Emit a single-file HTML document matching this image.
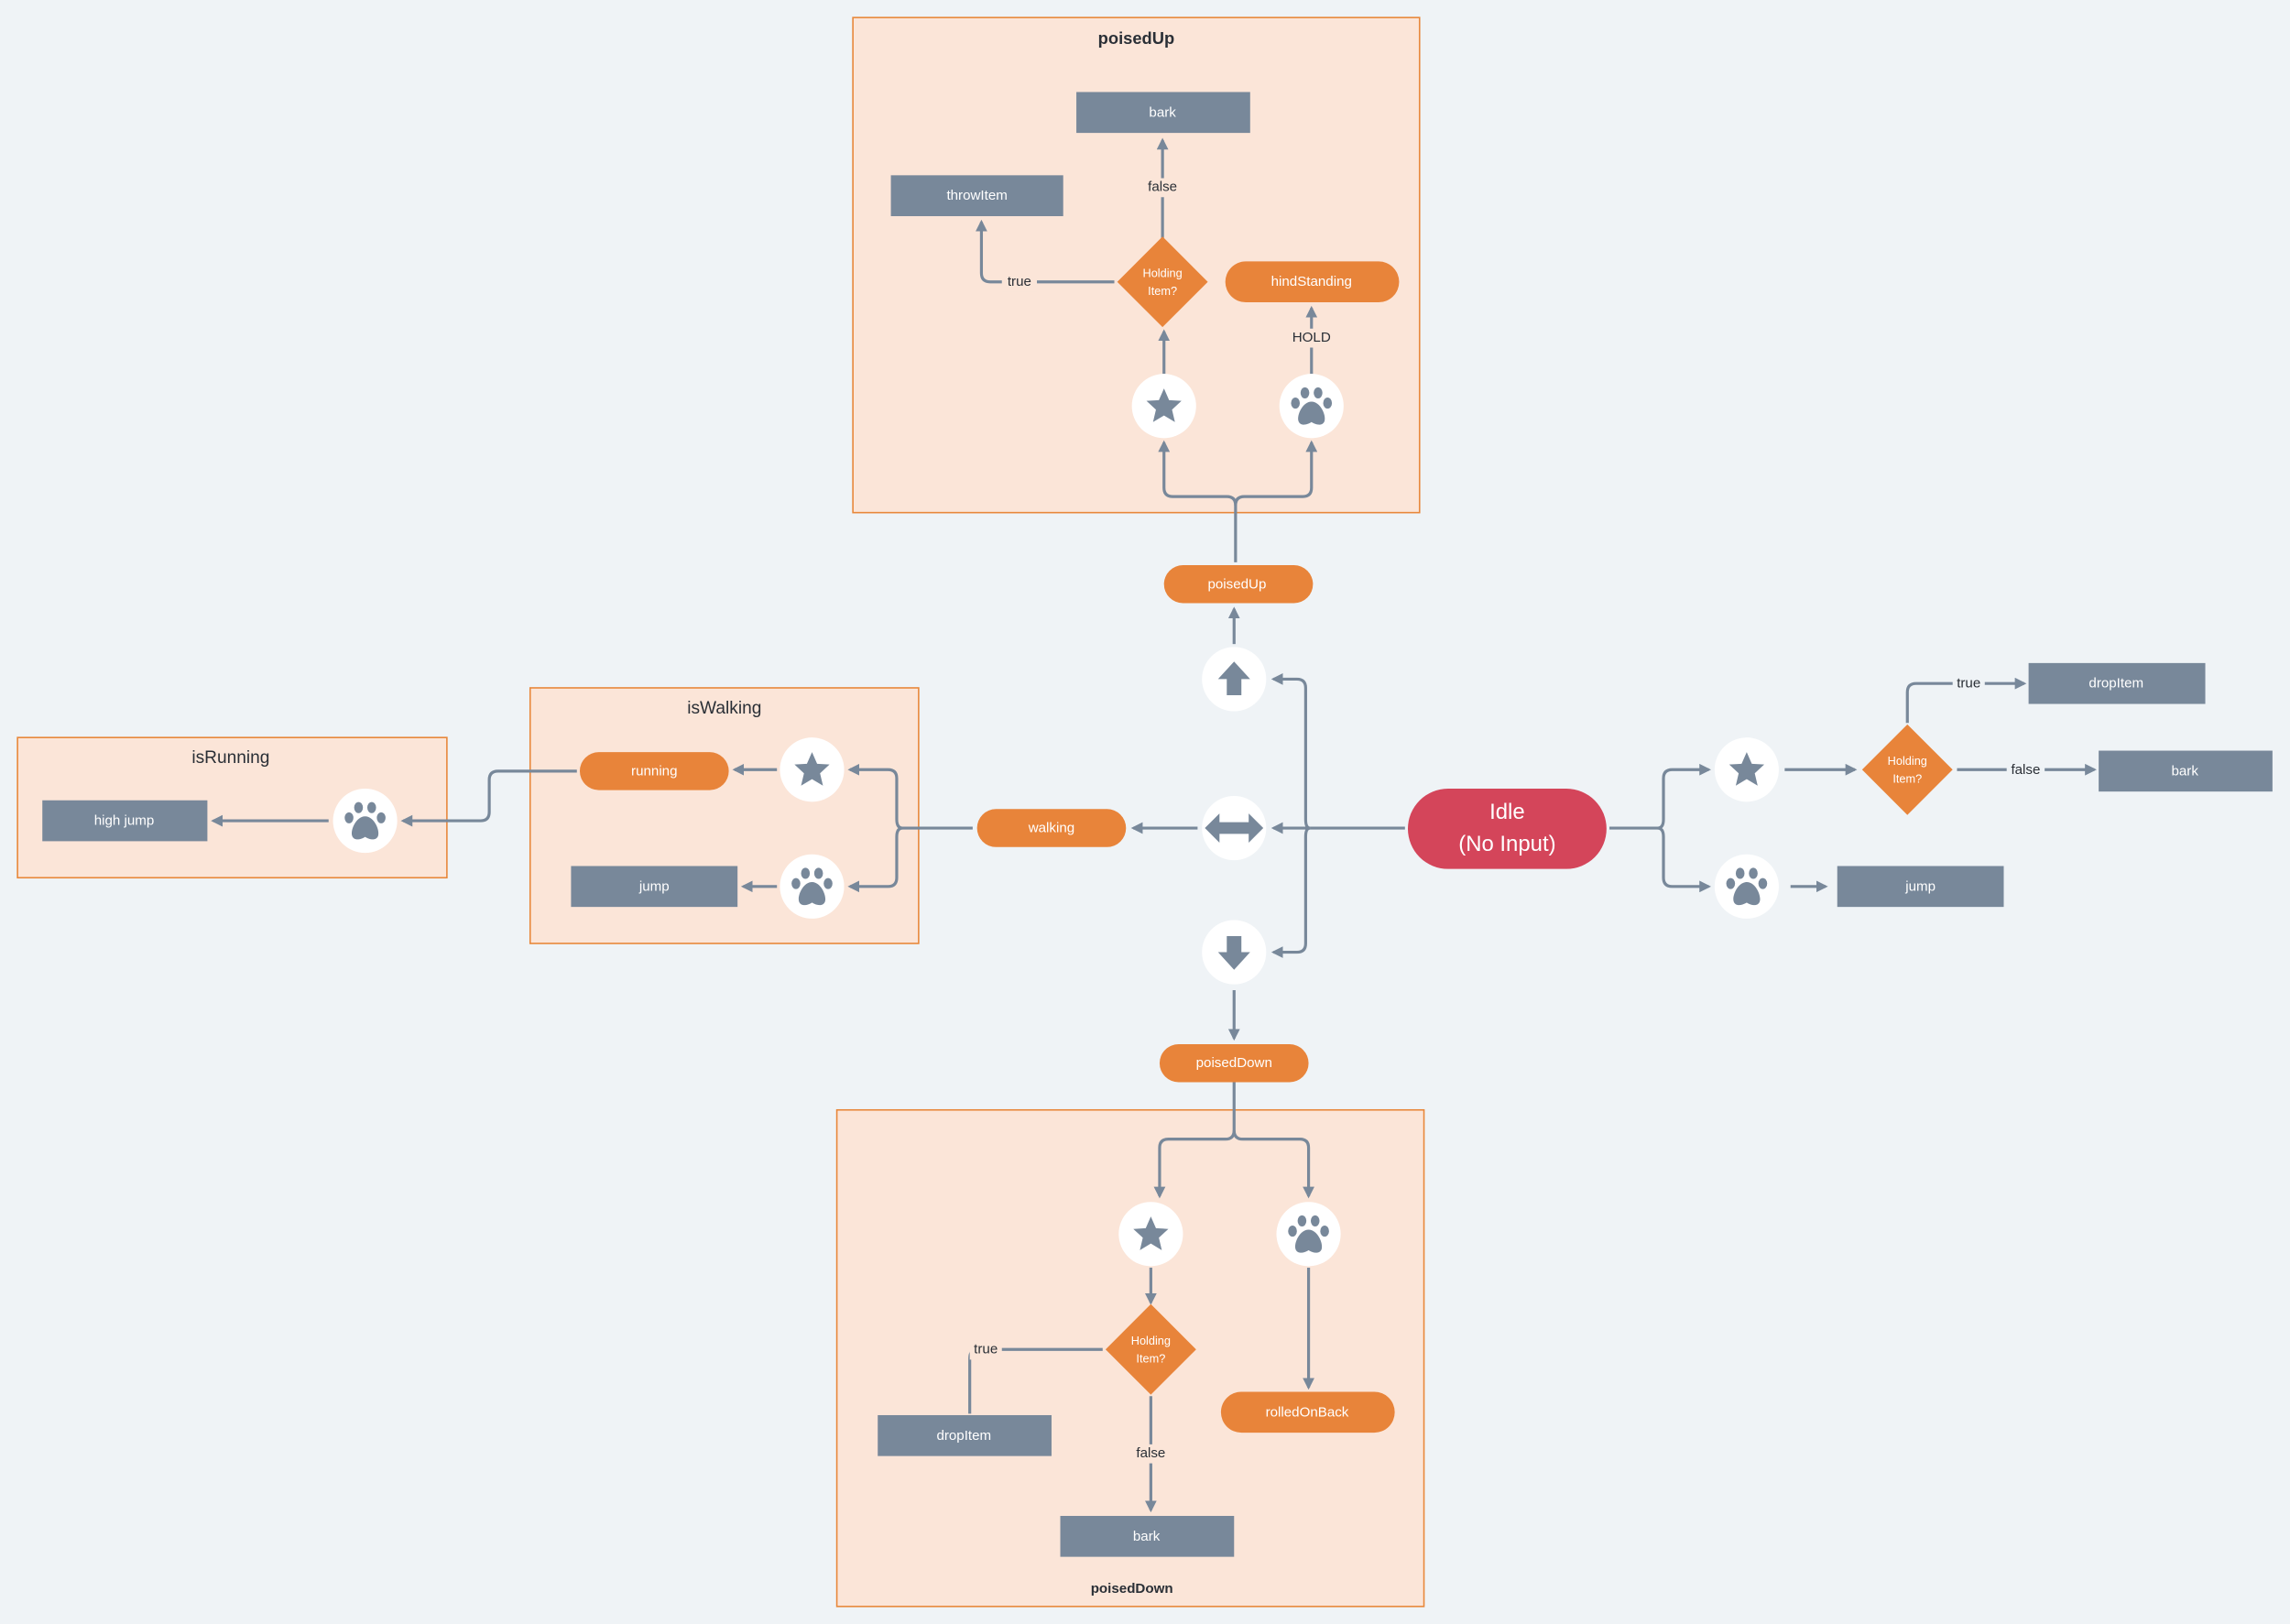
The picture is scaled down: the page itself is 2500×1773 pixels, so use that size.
<!DOCTYPE html>
<html><head><meta charset="utf-8"><style>
html,body{margin:0;padding:0;background:#eff3f6;}
svg{display:block;}
text{font-family:"Liberation Sans",sans-serif;}
.w{fill:#fff;font-size:9.5px;text-anchor:middle;dominant-baseline:central;}
.l{fill:#2a2f36;font-size:9.5px;text-anchor:middle;dominant-baseline:central;}
.ln{fill:none;stroke:#78889a;stroke-width:2;stroke-linejoin:round;}
.box{fill:#fbe5d8;stroke:#e8873a;stroke-width:1;}
.or{fill:#e8843a;}
.gr{fill:#78889a;}
</style></head><body>
<svg width="2500" height="1773" viewBox="0 0 1568 1112" xmlns="http://www.w3.org/2000/svg">
<defs>
<marker id="a" viewBox="0 0 10 10" refX="8" refY="5" markerWidth="4" markerHeight="4" orient="auto"><path d="M0,0L10,5L0,10z" fill="#78889a"/></marker>
<g id="star"><circle r="22" fill="#fff"/><path fill="#78889a" d="M0,-12 L3.5,-4 L12,-3.5 L5.5,2.5 L7.5,11 L0,6.5 L-7.5,11 L-5.5,2.5 L-12,-3.5 L-3.5,-4z"/></g>
<g id="paw"><circle r="22" fill="#fff"/><g fill="#78889a"><ellipse cx="-4.5" cy="-9" rx="3" ry="3.8"/><ellipse cx="4.5" cy="-9" rx="3" ry="3.8"/><ellipse cx="-11" cy="-2" rx="3" ry="3.8"/><ellipse cx="11" cy="-2" rx="3" ry="3.8"/><path d="M0,-3 C-6,-3 -10,6 -9,10 C-8,14 -3,13 0,11 C3,13 8,14 9,10 C10,6 6,-3 0,-3z"/></g></g>
</defs>
<rect width="1568" height="1112" fill="#eff3f6"/>
<!-- boxes -->
<rect class="box" x="584" y="12" width="388" height="339"/>
<text x="778" y="26" style="font-size:11.5px;font-weight:bold;fill:#2a2f36" text-anchor="middle" dominant-baseline="central">poisedUp</text>
<rect class="box" x="363" y="471" width="266" height="175"/>
<text x="496" y="485" style="font-size:12px;fill:#2a2f36" text-anchor="middle" dominant-baseline="central">isWalking</text>
<rect class="box" x="12" y="505" width="294" height="96"/>
<text x="158" y="519" style="font-size:12px;fill:#2a2f36" text-anchor="middle" dominant-baseline="central">isRunning</text>
<rect class="box" x="573" y="760" width="402" height="340"/>
<text x="775" y="1088" style="font-size:9.5px;font-weight:bold;fill:#2a2f36" text-anchor="middle" dominant-baseline="central">poisedDown</text>

<!-- connectors -->
<g class="ln">
<path d="M796,163 V96" marker-end="url(#a)"/>
<path d="M763,193 H678 Q672,193 672,187 V152" marker-end="url(#a)"/>
<path d="M797,256 V227" marker-end="url(#a)"/>
<path d="M898,256 V211" marker-end="url(#a)"/>
<path d="M846,385 V346 Q846,340 840,340 H803 Q797,340 797,334 V303" marker-end="url(#a)"/>
<path d="M846,346 Q846,340 852,340 H892 Q898,340 898,334 V303" marker-end="url(#a)"/>
<path d="M845,441 V417" marker-end="url(#a)"/>
<path d="M962,567 H897"/>
<path d="M897,567 Q894,567 894,561 V471 Q894,465 888,465 H872" marker-end="url(#a)"/>
<path d="M897,567 H872" marker-end="url(#a)"/>
<path d="M897,567 Q894,567 894,573 V646 Q894,652 888,652 H872" marker-end="url(#a)"/>
<path d="M820,567 H776" marker-end="url(#a)"/>
<path d="M666,567 H618 Q614,567 614,561 V533 Q614,527 608,527 H582" marker-end="url(#a)"/>
<path d="M618,567 Q614,567 614,573 V601 Q614,607 608,607 H582" marker-end="url(#a)"/>
<path d="M532,527 H503" marker-end="url(#a)"/>
<path d="M532,607 H509" marker-end="url(#a)"/>
<path d="M395,528 H341 Q335,528 335,534 V556 Q335,562 329,562 H276" marker-end="url(#a)"/>
<path d="M225,562 H146" marker-end="url(#a)"/>
<path d="M845,678 V711" marker-end="url(#a)"/>
<path d="M845,741 V774 Q845,780 839,780 H800 Q794,780 794,786 V819" marker-end="url(#a)"/>
<path d="M845,774 Q845,780 851,780 H890 Q896,780 896,786 V819" marker-end="url(#a)"/>
<path d="M788,868 V892" marker-end="url(#a)"/>
<path d="M755,924 H670 Q664,924 664,930 V968"/>
<path d="M788,956 V1034" marker-end="url(#a)"/>
<path d="M896,868 V950" marker-end="url(#a)"/>
<path d="M1102,567 H1135 Q1139,567 1139,561 V533 Q1139,527 1145,527 H1170" marker-end="url(#a)"/>
<path d="M1135,567 Q1139,567 1139,573 V601 Q1139,607 1145,607 H1170" marker-end="url(#a)"/>
<path d="M1222,527 H1270" marker-end="url(#a)"/>
<path d="M1306,495 V474 Q1306,468 1312,468 H1386" marker-end="url(#a)"/>
<path d="M1340,527 H1434" marker-end="url(#a)"/>
<path d="M1226,607 H1250" marker-end="url(#a)"/>
</g>
<!-- edge labels -->
<g>
<rect x="783" y="122" width="26" height="13" fill="#fbe5d8"/><text class="l" x="796" y="128">false</text>
<rect x="686" y="187" width="24" height="13" fill="#fbe5d8"/><text class="l" x="698" y="193">true</text>
<rect x="883" y="225" width="30" height="13" fill="#fbe5d8"/><text class="l" x="898" y="231">HOLD</text>
<rect x="664" y="918" width="22" height="13" fill="#fbe5d8"/><text class="l" x="675" y="924">true</text>
<rect x="775" y="989" width="26" height="13" fill="#fbe5d8"/><text class="l" x="788" y="995">false</text>
<rect x="1337" y="462" width="22" height="13" fill="#eff3f6"/><text class="l" x="1348" y="468">true</text>
<rect x="1374" y="521" width="26" height="13" fill="#eff3f6"/><text class="l" x="1387" y="527">false</text>
</g>
<!-- gray rects -->
<g class="gr">
<rect x="737" y="63" width="119" height="28"/><rect x="610" y="120" width="118" height="28"/>
<rect x="29" y="548" width="113" height="28"/><rect x="391" y="593" width="114" height="28"/>
<rect x="601" y="969" width="119" height="28"/><rect x="726" y="1038" width="119" height="28"/>
<rect x="1389" y="454" width="121" height="28"/><rect x="1437" y="514" width="119" height="28"/>
<rect x="1258" y="593" width="114" height="28"/>
</g>
<text class="w" x="796" y="77">bark</text><text class="w" x="669" y="134">throwItem</text>
<text class="w" x="85" y="562">high jump</text><text class="w" x="448" y="607">jump</text>
<text class="w" x="660" y="983">dropItem</text><text class="w" x="785" y="1052">bark</text>
<text class="w" x="1449" y="468">dropItem</text><text class="w" x="1496" y="528">bark</text>
<text class="w" x="1315" y="607">jump</text>
<!-- pills -->
<g class="or">
<rect x="839" y="179" width="119" height="28" rx="14"/><rect x="797" y="387" width="102" height="26" rx="13"/>
<rect x="669" y="554" width="102" height="26" rx="13"/><rect x="397" y="515" width="102" height="26" rx="13"/>
<rect x="794" y="715" width="102" height="26" rx="13"/><rect x="836" y="953" width="119" height="28" rx="14"/>
<path d="M796,162 L827,193 L796,224 L765,193z"/>
<path d="M788,893 L819,924 L788,955 L757,924z"/>
<path d="M1306,496 L1337,527 L1306,558 L1275,527z"/>
</g>
<text class="w" x="898" y="193">hindStanding</text><text class="w" x="847" y="400">poisedUp</text>
<text class="w" x="720" y="567">walking</text><text class="w" x="448" y="528">running</text>
<text class="w" x="845" y="728">poisedDown</text><text class="w" x="895" y="967">rolledOnBack</text>
<text class="w" x="796" y="187" style="font-size:8px">Holding</text><text class="w" x="796" y="199" style="font-size:8px">Item?</text>
<text class="w" x="788" y="918" style="font-size:8px">Holding</text><text class="w" x="788" y="930" style="font-size:8px">Item?</text>
<text class="w" x="1306" y="521" style="font-size:8px">Holding</text><text class="w" x="1306" y="533" style="font-size:8px">Item?</text>
<rect x="964" y="540" width="136" height="55" rx="27.5" fill="#d4455a"/>
<text class="w" x="1032" y="556" style="font-size:15px">Idle</text>
<text class="w" x="1032" y="578" style="font-size:15px">(No Input)</text>
<!-- icons -->
<use href="#star" x="797" y="278"/><use href="#paw" x="898" y="278"/>
<use href="#star" x="556" y="527"/><use href="#paw" x="556" y="607"/>
<use href="#paw" x="250" y="562"/>
<use href="#star" x="788" y="845"/><use href="#paw" x="896" y="845"/>
<use href="#star" x="1196" y="527"/><use href="#paw" x="1196" y="607"/>
<circle cx="845" cy="465" r="22" fill="#fff"/><path d="M845,453 L856,465 L850,465 L850,476 L840,476 L840,465 L834,465z" fill="#78889a"/>
<circle cx="845" cy="567" r="22" fill="#fff"/><path d="M825,567 L835,557 L835,563 L855,563 L855,557 L865,567 L855,577 L855,571 L835,571 L835,577z" fill="#78889a"/>
<circle cx="845" cy="652" r="22" fill="#fff"/><path d="M845,664 L856,652 L850,652 L850,641 L840,641 L840,652 L834,652z" fill="#78889a"/>
</svg>
</body></html>
